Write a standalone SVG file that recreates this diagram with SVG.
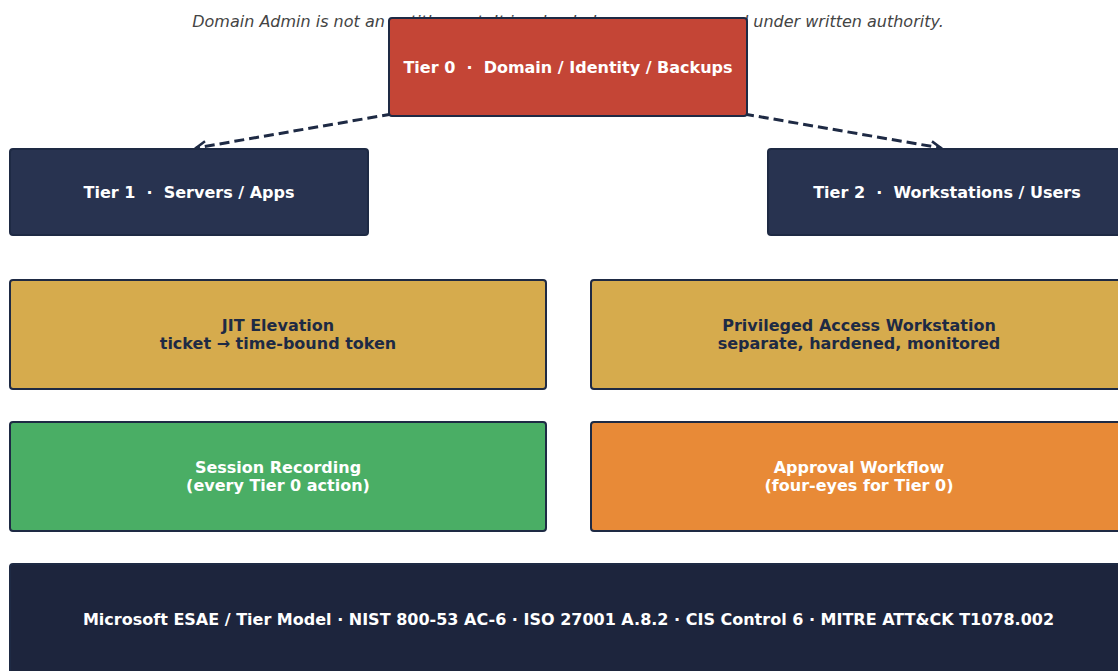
<svg xmlns="http://www.w3.org/2000/svg" width="1118" height="671" viewBox="0 0 1118 671">
<defs>
<marker id="arr" viewBox="0 0 14 14" refX="12" refY="7" markerWidth="14" markerHeight="14" markerUnits="userSpaceOnUse" orient="auto">
<path d="M2,2 L12,7 L2,12" fill="none" stroke="#1e2a44" stroke-width="2.5"/>
</marker>
<style>
.box{stroke:#1e2a44;stroke-width:2}
.t{font-family:"DejaVu Sans",sans-serif;font-weight:bold;font-size:16px;text-anchor:middle;dominant-baseline:central;white-space:pre}
.w{fill:#ffffff}
.d{fill:#1e2a44}
.conn{stroke:#1e2a44;stroke-width:3;stroke-dasharray:10,5;fill:none}
</style>
</defs>
<rect width="1118" height="671" fill="#ffffff"/>
<text x="568" y="21" font-family="DejaVu Sans,sans-serif" font-style="italic" font-size="16" fill="#444444" text-anchor="middle" dominant-baseline="central">Domain Admin is not an entitlement. It is a loaded weapon, accessed under written authority.</text>
<g id="connectors">
<line class="conn" x1="392" y1="114" x2="196" y2="148" marker-end="url(#arr)"/>
<line class="conn" x1="744" y1="114" x2="941" y2="148" marker-end="url(#arr)"/>
</g>
<g id="tier0">
<rect class="box" x="389" y="18" width="358" height="98" rx="3" fill="#c44536"/>
<text class="t w" x="568" y="67" xml:space="preserve">Tier 0  ·  Domain / Identity / Backups</text>
</g>
<g id="tier1">
<rect class="box" x="10" y="149" width="358" height="86" rx="3" fill="#283350"/>
<text class="t w" x="189" y="192" xml:space="preserve">Tier 1  ·  Servers / Apps</text>
</g>
<g id="tier2">
<rect class="box" x="768" y="149" width="358" height="86" rx="3" fill="#283350"/>
<text class="t w" x="947" y="192" xml:space="preserve">Tier 2  ·  Workstations / Users</text>
</g>
<g id="jit">
<rect class="box" x="10" y="280" width="536" height="109" rx="3" fill="#d6ab4d"/>
<text class="t d" x="278" y="325">JIT Elevation</text>
<text class="t d" x="278" y="343">ticket → time-bound token</text>
</g>
<g id="paw">
<rect class="box" x="591" y="280" width="536" height="109" rx="3" fill="#d6ab4d"/>
<text class="t d" x="859" y="325">Privileged Access Workstation</text>
<text class="t d" x="859" y="343">separate, hardened, monitored</text>
</g>
<g id="session">
<rect class="box" x="10" y="422" width="536" height="109" rx="3" fill="#4aae65"/>
<text class="t w" x="278" y="467">Session Recording</text>
<text class="t w" x="278" y="485">(every Tier 0 action)</text>
</g>
<g id="approval">
<rect class="box" x="591" y="422" width="536" height="109" rx="3" fill="#e88a37"/>
<text class="t w" x="859" y="467">Approval Workflow</text>
<text class="t w" x="859" y="485">(four-eyes for Tier 0)</text>
</g>
<g id="footer">
<rect class="box" x="10" y="564" width="1117" height="112" rx="3" fill="#1d253d"/>
<text class="t w" x="568.5" y="619">Microsoft ESAE / Tier Model · NIST 800-53 AC-6 · ISO 27001 A.8.2 · CIS Control 6 · MITRE ATT&amp;CK T1078.002</text>
</g>
</svg>
